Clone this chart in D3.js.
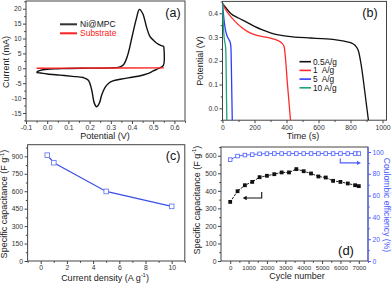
<!DOCTYPE html>
<html><head><meta charset="utf-8">
<script src="https://cdn.jsdelivr.net/npm/d3@7/dist/d3.min.js"></script>
<style>body{margin:0;background:#fff}svg{display:block;font-family:Arial,"Liberation Sans",sans-serif}</style>
</head><body><svg id="c" width="392" height="284"></svg>
<script>
// ---------- data ----------
// (a) cyclic voltammetry
const cvAnodicV = [-0.05,-0.04,-0.02,0.0,0.05,0.1,0.2,0.3,0.34,0.36,0.38,0.40,0.42,0.435,0.45,0.47,0.485,0.5,0.517,0.535,0.55];
const cvAnodicI = [-1.4,-0.9,-0.5,-0.3,-0.15,-0.05,0.05,0.15,0.4,1.2,4.5,10.5,16.5,19.8,18.5,13.5,10.6,9.5,8.4,7.7,7.4];
const cvCathodicV = [0.55,0.548,0.53,0.5,0.47,0.44,0.4,0.35,0.31,0.29,0.273,0.257,0.246,0.233,0.222,0.21,0.194,0.17,0.12,0.06,0.0,-0.03,-0.05];
const cvCathodicI = [7.4,1.0,0.1,-0.9,-1.9,-2.5,-3.0,-3.6,-4.2,-5.0,-6.4,-9.0,-11.7,-12.9,-11.7,-7.3,-4.0,-3.1,-2.7,-2.3,-1.9,-1.6,-1.4];
const substrateV = [-0.05,0.1,0.3,0.55];
const substrateI = [0.0,0.05,0.1,0.15];
const cvLegend = ["Ni@MPC","Substrate"];
const cvXTicks = [-0.1,0.0,0.1,0.2,0.3,0.4,0.5,0.6];
const cvYTicks = [-15,-10,-5,0,5,10,15,20];

// (b) galvanostatic discharge
const gcdLabels = ["0.5A/g","1  A/g","5  A/g","10 A/g"];
const gcdColors = ["#111111","#ff2a2a","#2f3cff","#1fa37a"];
const t05 = [0,25,50,100,150,200,250,300,350,450,550,650,720,780,815,835,850,865,880,895,912];
const v05 = [0.442,0.42,0.40,0.38,0.363,0.345,0.33,0.318,0.309,0.3,0.296,0.292,0.287,0.28,0.272,0.26,0.24,0.19,0.12,0.04,-0.05];
const t1 = [0,15,40,80,120,160,200,250,300,340,370,385,395,405,415,425];
const v1 = [0.44,0.42,0.395,0.365,0.34,0.322,0.31,0.302,0.295,0.287,0.275,0.26,0.2,0.11,0.03,-0.05];
const t5 = [0,4,10,16,22,30,38,45,50,53,55,57,59,61];
const v5 = [0.44,0.41,0.37,0.34,0.32,0.302,0.292,0.283,0.272,0.25,0.19,0.11,0.03,-0.05];
const t10 = [0,3,6,10,14,18,21,23,25,27];
const v10 = [0.44,0.39,0.34,0.3,0.28,0.265,0.24,0.15,0.05,-0.05];
const gcdXTicks = [0,200,400,600,800,1000];
const gcdYTicks = [0.0,0.1,0.2,0.3,0.4];

// (c) rate capability
const currentDensity = [0.5,1,5,10];
const specCap = [910,845,598,470];
const rateXTicks = [0,2,4,6,8,10];
const rateYTicks = [0,150,300,450,600,750,900];

// (d) cycling
const cycles = [0,400,800,1200,1600,2000,2400,2800,3200,3600,4000,4400,4800,5200,5600,6000,6400,6800,7000];
const cycleCap = [337,398,432,451,478,486,495,505,505,524,512,499,482,476,457,451,442,432,427];
const coulombic = [93,96.3,97.2,97.6,98.3,98.5,98.6,98.6,98.6,98.6,98.6,98.6,98.6,98.6,98.6,98.6,98.6,98.6,98.6];
const cycXTicks = [0,1000,2000,3000,4000,5000,6000,7000];
const cycYTicks = [0,100,200,300,400,500,600];
const ceTicks = [0,20,40,60,80,100];

// ---------- drawing ----------
const svg = d3.select("#c");
const FONT = 'Arial,"Liberation Sans",sans-serif';
const AX = "#444";

function range(a,b,s){const r=[];for(let v=a;v<=b+1e-9;v+=s)r.push(+v.toFixed(6));return r;}

function panel(o){
  const x = d3.scaleLinear().domain(o.xd).range([o.l,o.r]);
  const y = d3.scaleLinear().domain(o.yd).range([o.b,o.t]);
  const g = svg.append("g");
  g.append("g").attr("transform",`translate(0,${o.b})`)
    .call(d3.axisBottom(x).tickValues(o.xminor).tickSize(1.8).tickFormat(""));
  g.append("g").attr("transform",`translate(${o.l},0)`)
    .call(d3.axisLeft(y).tickValues(o.yminor).tickSize(1.8).tickFormat(""));
  g.append("g").attr("transform",`translate(0,${o.b})`)
    .call(d3.axisBottom(x).tickValues(o.xt).tickSize(3).tickPadding(1.5).tickFormat(o.xf))
    .selectAll("text").attr("font-size",o.xfs||6.8);
  g.append("g").attr("transform",`translate(${o.l},0)`)
    .call(d3.axisLeft(y).tickValues(o.yt).tickSize(3).tickPadding(1.5).tickFormat(o.yf))
    .selectAll("text").attr("font-size",o.yfs||6.8);
  g.selectAll(".domain").remove();
  g.selectAll(".tick line").attr("stroke",AX);
  g.selectAll(".tick text").attr("fill","#333").attr("font-family",FONT);
  g.append("rect").attr("x",o.l).attr("y",o.t).attr("width",o.r-o.l).attr("height",o.b-o.t)
    .attr("fill","none").attr("stroke",AX).attr("stroke-width",1);
  return {x,y,g};
}
function label(txt,x,y,rot,size,color,sup){
  const t = svg.append("text").attr("transform",`translate(${x},${y}) rotate(${rot||0})`)
    .attr("text-anchor","middle").attr("font-size",size||9).attr("fill",color||"#222")
    .attr("font-family",FONT);
  if(sup){
    t.append("tspan").text(txt);
    t.append("tspan").text(sup).attr("font-size",(size||9)*0.65).attr("dy",-3.5);
    t.append("tspan").text(")").attr("dy",3.5);
  } else t.text(txt);
  return t;
}
const f1 = v => v.toFixed(1);
const fi = v => String(v);

// ----- (a) -----
{
  const p = panel({l:26,r:185,t:1,b:121,xd:[-0.1,0.65],yd:[-17.7,22.6],
    xt:cvXTicks,yt:cvYTicks,xminor:range(-0.05,0.65,0.1),yminor:range(-17.5,22.5,5),
    xf:f1,yf:fi});
  const line = d3.line().x(d=>p.x(d[0])).y(d=>p.y(d[1])).curve(d3.curveCatmullRom.alpha(0.5));
  const an = cvAnodicV.map((v,i)=>[v,cvAnodicI[i]]);
  const ca = cvCathodicV.map((v,i)=>[v,cvCathodicI[i]]);
  svg.append("path").attr("d",line(an)).attr("fill","none").attr("stroke","#111").attr("stroke-width",1.4);
  svg.append("path").attr("d",line(ca)).attr("fill","none").attr("stroke","#111").attr("stroke-width",1.4);
  svg.append("path").attr("d",d3.line().x(d=>p.x(d[0])).y(d=>p.y(d[1]))(substrateV.map((v,i)=>[v,substrateI[i]])))
    .attr("fill","none").attr("stroke","#ff2020").attr("stroke-width",1.4);
  const lc = ["#333","#ff2020"];
  cvLegend.forEach((s,i)=>{
    const yy = 24.3 + i*9;
    svg.append("line").attr("x1",60).attr("x2",77).attr("y1",yy).attr("y2",yy).attr("stroke",lc[i]).attr("stroke-width",2);
    svg.append("text").attr("x",80).attr("y",yy+3).attr("font-size",8.5).attr("font-family",FONT)
      .attr("fill",i?"#ff2020":"#111").text(s);
  });
  label("(a)",173,16.8,0,12.5,"#111");
  label("Potential (V)",105,139,0,9);
  label("Current (mA)",8.5,62,-90,9);
}
// ----- (b) -----
{
  const p = panel({l:222.5,r:386.5,t:1.4,b:120.2,xd:[0,1025],yd:[-0.05,0.45],
    xt:gcdXTicks,yt:gcdYTicks,xminor:range(100,1000,200),yminor:range(-0.05,0.45,0.1),
    xf:fi,yf:f1});
  const line = d3.line().x(d=>p.x(d[0])).y(d=>p.y(d[1])).curve(d3.curveMonotoneX);
  const sets = [[t05,v05],[t1,v1],[t5,v5],[t10,v10]];
  sets.forEach((s,k)=>{
    svg.append("path").attr("d",line(s[0].map((t,i)=>[t,s[1][i]])))
      .attr("fill","none").attr("stroke",gcdColors[k]).attr("stroke-width",1.3);
  });
  gcdLabels.forEach((s,i)=>{
    const yy = 61.7 + i*8.7;
    svg.append("line").attr("x1",299.5).attr("x2",311).attr("y1",yy).attr("y2",yy).attr("stroke",gcdColors[i]).attr("stroke-width",1.6);
    svg.append("text").attr("x",313).attr("y",yy+3).attr("font-size",8.3).attr("font-family",FONT)
      .attr("fill","#111").attr("xml:space","preserve").style("white-space","pre").text(s);
  });
  label("(b)",370,16.8,0,12.5,"#111");
  label("Time (s)",303,139,0,9);
  label("Potential (V)",202.5,61,-90,9);
}
// ----- (c) -----
{
  const p = panel({l:27.6,r:184.8,t:144.7,b:261,xd:[-1,11],yd:[0,1000],
    xt:rateXTicks,yt:rateYTicks,xminor:range(-1,11,1).filter(v=>v%2!==0),yminor:range(75,975,150),
    xf:fi,yf:fi});
  const pts = currentDensity.map((c,i)=>[c,specCap[i]]);
  svg.append("path").attr("d",d3.line().x(d=>p.x(d[0])).y(d=>p.y(d[1]))(pts))
    .attr("fill","none").attr("stroke","#3a4fe6").attr("stroke-width",1.2);
  svg.selectAll(null).data(pts).enter().append("rect")
    .attr("x",d=>p.x(d[0])-2.3).attr("y",d=>p.y(d[1])-2.3).attr("width",4.6).attr("height",4.6)
    .attr("fill","#fff").attr("stroke","#6c7cf2").attr("stroke-width",0.9);
  label("(c)",173,160,0,12.5,"#111");
  label("Current density (A g",105,280.5,0,9,null,"-1");
  label("Specific capacitance (F g",7,204,-90,9,null,"-1");
}
// ----- (d) -----
{
  const p = panel({l:221,r:368,t:147,b:261,xd:[-500,7500],yd:[0,650],
    xt:cycXTicks,yt:cycYTicks,xminor:range(500,7500,1000),yminor:range(50,650,100),
    xf:fi,yf:fi,xfs:6.2});
  const yR = d3.scaleLinear().domain([0,104.6]).range([261,147]);
  const blue = "#4a5cff";
  const ar = svg.append("g").attr("transform","translate(368,0)")
    .call(d3.axisRight(yR).tickValues(ceTicks).tickSize(3).tickPadding(1.5));
  svg.append("g").attr("transform","translate(368,0)")
    .call(d3.axisRight(yR).tickValues(range(10,100,20)).tickSize(1.8).tickFormat(""))
    .selectAll(".domain").remove();
  ar.select(".domain").remove();
  ar.selectAll("text").attr("font-size",6.8).attr("fill",blue).attr("font-family",FONT);
  svg.selectAll(".tick line").filter(function(){return this.parentNode.parentNode.getAttribute("transform")==="translate(368,0)";}).attr("stroke",blue);
  svg.append("line").attr("x1",368).attr("x2",368).attr("y1",147).attr("y2",261).attr("stroke",blue).attr("stroke-width",1);

  const cap = cycles.map((c,i)=>[c,cycleCap[i]]);
  const ce = cycles.map((c,i)=>[c,coulombic[i]]);
  svg.append("path").attr("d",d3.line().x(d=>p.x(d[0])).y(d=>p.y(d[1]))(cap))
    .attr("fill","none").attr("stroke","#222").attr("stroke-width",1).attr("stroke-dasharray","2.5,1");
  svg.selectAll(null).data(cap).enter().append("rect")
    .attr("x",d=>p.x(d[0])-1.9).attr("y",d=>p.y(d[1])-1.9).attr("width",3.8).attr("height",3.8).attr("fill","#111");
  svg.append("path").attr("d",d3.line().x(d=>p.x(d[0])).y(d=>yR(d[1]))(ce))
    .attr("fill","none").attr("stroke",blue).attr("stroke-width",0.9);
  svg.selectAll(null).data(ce).enter().append("rect")
    .attr("x",d=>p.x(d[0])-1.8).attr("y",d=>yR(d[1])-1.8).attr("width",3.6).attr("height",3.6)
    .attr("fill","#fff").attr("stroke",blue).attr("stroke-width",0.8);

  // arrows
  const ax1 = p.x(1715), ax0 = p.x(680), ay1 = p.y(393), ay0 = p.y(359);
  svg.append("path").attr("d",`M${ax1},${ay1}V${ay0}H${ax0+3}`).attr("fill","none").attr("stroke","#111").attr("stroke-width",1.1);
  svg.append("path").attr("d",`M${ax0},${ay0}l4,-2.2v4.4z`).attr("fill","#111");
  const bx0 = p.x(5990), bx1 = p.x(7120), by0 = yR(94), by1 = yR(90);
  svg.append("path").attr("d",`M${bx0},${by0}V${by1}H${bx1-3}`).attr("fill","none").attr("stroke",blue).attr("stroke-width",1.1);
  svg.append("path").attr("d",`M${bx1},${by1}l-4,-2.2v4.4z`).attr("fill",blue);

  label("(d)",346,255,0,13,"#111");
  label("Cycle number",297,278.5,0,9);
  label("Specific capacitance (F g",199.5,200,-90,9,null,"-1");
  label("Coulombic efficiency (%)",383.5,205,90,8.6,blue);
}
</script></body></html>
